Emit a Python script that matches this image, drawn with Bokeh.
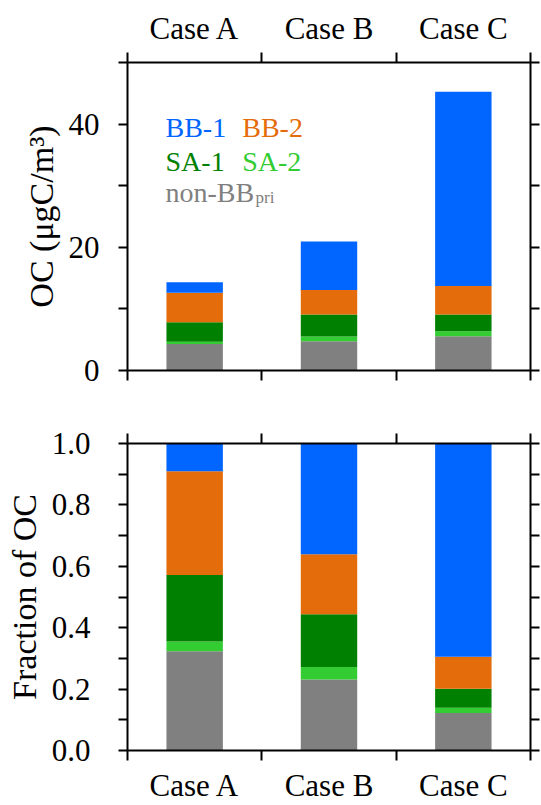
from bokeh.plotting import figure
from bokeh.models import (Range1d, LinearAxis, FixedTicker,
                          ColumnDataSource, NumeralTickFormatter)
from bokeh.core.properties import value
from bokeh.layouts import column
from bokeh.embed import file_html
from bokeh.resources import INLINE

# ---------------- data ----------------
cases = ["Case A", "Case B", "Case C"]
components = ["non-BB_pri", "SA-2", "SA-1", "BB-2", "BB-1"]

# OC concentrations (ugC/m3), stacked bottom -> top
oc_nonbb = [4.29, 4.73, 5.55]
oc_sa2 = [0.39, 0.77, 0.81]
oc_sa1 = [3.15, 3.59, 2.73]
oc_bb2 = [4.78, 3.96, 4.61]
oc_bb1 = [1.70, 7.88, 31.54]

# Fraction of OC, stacked bottom -> top
fr_nonbb = [0.323, 0.231, 0.1225]
fr_sa2 = [0.032, 0.041, 0.0165]
fr_sa1 = [0.217, 0.172, 0.0625]
fr_bb2 = [0.338, 0.195, 0.104]
fr_bb1 = [0.090, 0.361, 0.6945]

colors = ["#808080", "#33CC33", "#008000", "#E46C0A", "#0066FF"]

top_major = [0, 20, 40]
top_minor = [10, 30, 50]
bot_major = [0.0, 0.2, 0.4, 0.6, 0.8, 1.0]
bot_minor = [0.1, 0.3, 0.5, 0.7, 0.9]

FONT = "Liberation Serif"
TICK_FS = "31px"
AXLAB_FS = "34px"

xpos = [i + 0.5 for i in range(len(cases))]
bounds = [float(i) for i in range(len(cases) + 1)]


def base_axis(ax):
    ax.axis_line_width = 2
    ax.axis_line_color = "black"
    ax.major_tick_line_width = 2
    ax.minor_tick_line_width = 2
    ax.major_tick_line_color = "black"
    ax.minor_tick_line_color = "black"
    ax.major_tick_in = 0
    ax.minor_tick_in = 0
    ax.major_label_text_font = FONT
    ax.major_label_text_font_size = TICK_FS
    ax.major_label_text_color = "black"
    ax.axis_label_text_font = FONT
    ax.axis_label_text_font_style = "normal"
    ax.axis_label_text_font_size = AXLAB_FS
    ax.axis_label_text_color = "black"
    return ax


def cat_axis(labels_on, standoff):
    ax = LinearAxis(ticker=FixedTicker(ticks=xpos, minor_ticks=bounds))
    base_axis(ax)
    ax.major_tick_out = 0
    ax.minor_tick_out = 10
    if labels_on:
        ax.major_label_overrides = {x: c for x, c in zip(xpos, cases)}
        ax.major_label_standoff = standoff
    else:
        ax.major_label_overrides = {x: "" for x in xpos}
        ax.major_label_text_font_size = "0px"
        ax.major_label_standoff = 0
    return ax


def val_axis(major, minor, labels_on, standoff, label=None, fmt=None, lab_standoff=6):
    ax = LinearAxis(ticker=FixedTicker(ticks=major, minor_ticks=minor))
    base_axis(ax)
    ax.major_tick_out = 9
    ax.minor_tick_out = 9
    if labels_on:
        ax.major_label_standoff = standoff
        if fmt:
            ax.formatter = NumeralTickFormatter(format=fmt)
        if label:
            ax.axis_label = label
            ax.axis_label_standoff = lab_standoff
    else:
        ax.major_label_text_font_size = "0px"
        ax.major_label_text_alpha = 0
        ax.major_label_standoff = 0
    return ax


def make_fig(height, ymax, top, bottom):
    p = figure(width=541, height=height, x_range=Range1d(0, len(cases)),
               y_range=Range1d(0, ymax), x_axis_type=None, y_axis_type=None,
               output_backend="svg", toolbar_location=None)
    p.min_border_left = 127
    p.min_border_right = 11
    p.min_border_top = top
    p.min_border_bottom = bottom
    p.outline_line_color = None
    p.background_fill_color = "white"
    p.border_fill_color = "white"
    return p


# ---------------- top panel ----------------
src1 = ColumnDataSource(dict(x=xpos, nonbb=oc_nonbb, sa2=oc_sa2, sa1=oc_sa1,
                             bb2=oc_bb2, bb1=oc_bb1))
p1 = make_fig(400, 50, 62, 30)
p1.vbar_stack(["nonbb", "sa2", "sa1", "bb2", "bb1"], x="x", width=0.42,
              color=colors, line_color=None, source=src1)
p1.add_layout(cat_axis(True, 7), "above")
p1.add_layout(cat_axis(False, 0), "below")
p1.add_layout(val_axis(top_major, top_minor, True, 19, "OC (μgC/m³)", lab_standoff=6), "left")
p1.add_layout(val_axis(top_major, top_minor, False, 0), "right")

# legend text (coloured labels, placed in data space inside the top panel)
leg_main = ColumnDataSource(dict(
    x=[0.283, 0.854, 0.283, 0.854, 0.283],
    y=[39.5, 39.5, 34.0, 34.0, 28.85],
    text=["BB-1", "BB-2", "SA-1", "SA-2", "non-BB"],
    color=[colors[4], colors[3], colors[2], colors[1], colors[0]],
))
p1.text(x="x", y="y", text="text", text_color="color", source=leg_main,
        text_font=value(FONT), text_font_size="28px", text_align="left",
        text_baseline="alphabetic")
leg_sub = ColumnDataSource(dict(x=[0.953], y=[28.1], text=["pri"], color=[colors[0]]))
p1.text(x="x", y="y", text="text", text_color="color", source=leg_sub,
        text_font=value(FONT), text_font_size="17px", text_align="left",
        text_baseline="alphabetic")

# ---------------- bottom panel ----------------
src2 = ColumnDataSource(dict(x=xpos, nonbb=fr_nonbb, sa2=fr_sa2, sa1=fr_sa1,
                             bb2=fr_bb2, bb1=fr_bb1))
p2 = make_fig(405, 1.0, 43, 54)
p2.vbar_stack(["nonbb", "sa2", "sa1", "bb2", "bb1"], x="x", width=0.42,
              color=colors, line_color=None, source=src2)
p2.add_layout(cat_axis(False, 0), "above")
p2.add_layout(cat_axis(True, 7), "below")
p2.add_layout(val_axis(bot_major, bot_minor, True, 28, "Fraction of OC", "0.0"), "left")
p2.add_layout(val_axis(bot_major, bot_minor, False, 0), "right")

layout = column(p1, p2, spacing=0)
open("out.html", "w").write(file_html(layout, INLINE))
